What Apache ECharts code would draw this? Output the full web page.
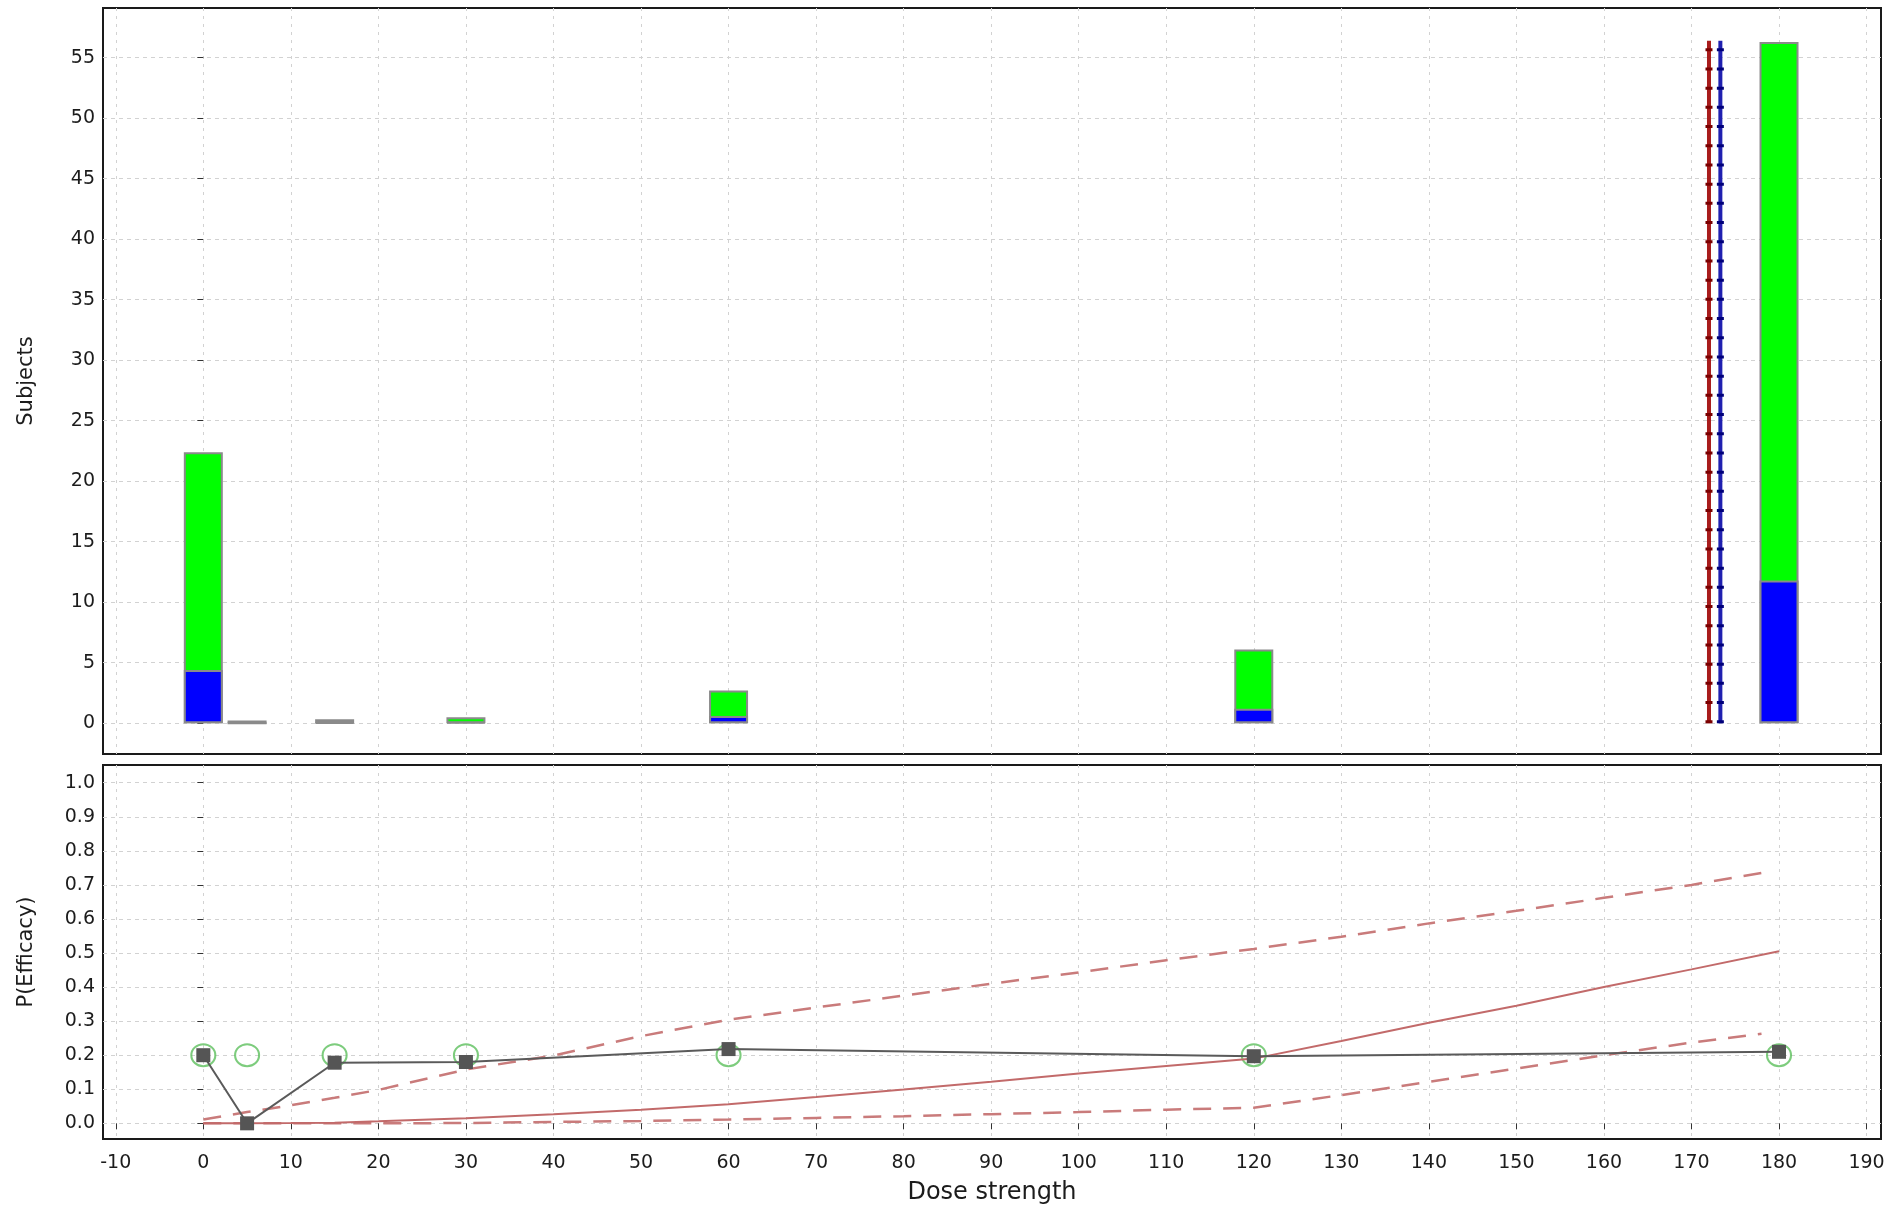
<!DOCTYPE html>
<html>
<head>
<meta charset="utf-8">
<script src="https://cdn.jsdelivr.net/npm/echarts@6/dist/echarts.min.js"></script>
<style>
  html, body { margin: 0; padding: 0; background: #ffffff; }
  #chart { width: 1889px; height: 1207px; }
</style>
</head>
<body>
<div id="chart"></div>
<script>
// Dose levels tested
const doses = [0, 5, 15, 30, 60, 120, 180];
// Subjects per dose, split into responders (blue) and non-responders (green)
const responders = [4.4, 0, 0.06, 0.09, 0.6, 1.2, 11.8];
const nonResponders = [18.0, 0.22, 0.28, 0.41, 2.1, 4.9, 44.5];
// Observed response rate per dose
const observedRate = [0.2, 0.0, 0.178, 0.18, 0.218, 0.197, 0.21];
// Prior guess of the response rate per dose
const priorRate = [0.2, 0.2, 0.2, 0.2, 0.2, 0.2, 0.2];

// Fitted dose-response curve
const fitDoses = [0, 5, 10, 15, 20, 30, 40, 50, 60, 70, 80, 90, 100, 110, 120, 130, 140, 150, 160, 170, 180];
const fitMean = [0.0, 0.0005, 0.001, 0.002, 0.006, 0.015, 0.027, 0.04, 0.056, 0.077, 0.099, 0.122, 0.146, 0.168, 0.19, 0.242, 0.295, 0.345, 0.4, 0.452, 0.505];
// Credible interval around the fit
const boundDoses = [0, 5, 10, 15, 20, 30, 40, 50, 60, 70, 80, 90, 100, 110, 120, 130, 140, 150, 160, 170, 178];
const upperBound = [0.011, 0.033, 0.053, 0.075, 0.098, 0.158, 0.199, 0.256, 0.304, 0.34, 0.375, 0.41, 0.443, 0.479, 0.512, 0.548, 0.587, 0.624, 0.662, 0.7, 0.735];
const lowerBound = [0.0, 0.0, 0.0, 0.0, 0.0, 0.001, 0.004, 0.007, 0.011, 0.016, 0.021, 0.027, 0.033, 0.04, 0.046, 0.083, 0.122, 0.161, 0.2, 0.237, 0.263];

// Recommended doses shown as vertical markers
const targetDoseA = 172.0;
const targetDoseB = 173.3;
const targetMarkerTop = 56.4;

// Tick values
const doseTicks = [-10, 0, 10, 20, 30, 40, 50, 60, 70, 80, 90, 100, 110, 120, 130, 140, 150, 160, 170, 180, 190];
const subjectTicks = [0, 5, 10, 15, 20, 25, 30, 35, 40, 45, 50, 55];
const efficacyTicks = [0, 0.1, 0.2, 0.3, 0.4, 0.5, 0.6, 0.7, 0.8, 0.9, 1.0];

const FONT = 'DejaVu Sans';
const TEXT = '#1c1c1c';
const pairs = (xs, ys) => xs.map((x, i) => [x, ys[i]]);
// Total subjects per dose: the green bar spans the whole count, the blue one is drawn over its lower part
const totals = doses.map((_, i) => responders[i] + nonResponders[i]);

const hGrid = { show: true, lineStyle: { color: '#d2d2d2', width: 1, type: [4, 4] } };
const vGrid = { show: true, lineStyle: { color: '#d2d2d2', width: 1, type: [3, 5] } };

const doseRange = { min: -11.46, max: 191.65 };

const chart = echarts.init(document.getElementById('chart'), null, { renderer: 'canvas' });

chart.setOption({
  animation: false,
  backgroundColor: '#ffffff',
  grid: [
    { left: 103, right: 8, top: 8, bottom: 453, show: true, borderColor: '#1a1a1a', borderWidth: 2, backgroundColor: 'transparent' },
    { left: 103, right: 8, top: 765, bottom: 68, show: true, borderColor: '#1a1a1a', borderWidth: 2, backgroundColor: 'transparent' }
  ],
  xAxis: [
    {
      type: 'value', gridIndex: 0, min: doseRange.min, max: doseRange.max,
      axisLine: { show: false },
      axisTick: { show: false, customValues: doseTicks },
      axisLabel: { show: false, customValues: doseTicks },
      splitLine: vGrid
    },
    {
      type: 'value', gridIndex: 1, min: doseRange.min, max: doseRange.max,
      name: 'Dose strength', nameLocation: 'middle', nameGap: 42,
      nameTextStyle: { fontFamily: FONT, fontSize: 24, color: TEXT },
      axisLine: { show: false },
      axisTick: { show: true, length: 6, customValues: doseTicks, lineStyle: { color: '#333', width: 1 } },
      axisLabel: { customValues: doseTicks, margin: 15, fontFamily: FONT, fontSize: 19, color: TEXT,
                   formatter: v => String(Math.round(v)) },
      splitLine: vGrid
    }
  ],
  yAxis: [
    {
      type: 'value', gridIndex: 0, min: -2.54, max: 59.1,
      name: 'Subjects', nameLocation: 'middle', nameGap: 66,
      nameTextStyle: { fontFamily: FONT, fontSize: 21, color: TEXT },
      axisLine: { show: false },
      axisTick: { show: true, length: 6, customValues: subjectTicks, lineStyle: { color: '#333', width: 1 } },
      axisLabel: { customValues: subjectTicks, margin: 8, fontFamily: FONT, fontSize: 19, color: TEXT,
                   formatter: v => String(Math.round(v)) },
      splitLine: hGrid
    },
    {
      type: 'value', gridIndex: 1, min: -0.046, max: 1.052,
      name: 'P(Efficacy)', nameLocation: 'middle', nameGap: 66,
      nameTextStyle: { fontFamily: FONT, fontSize: 21, color: TEXT },
      axisLine: { show: false },
      axisTick: { show: true, length: 6, customValues: efficacyTicks, lineStyle: { color: '#333', width: 1 } },
      axisLabel: { customValues: efficacyTicks, margin: 8, fontFamily: FONT, fontSize: 19, color: TEXT,
                   formatter: v => v.toFixed(1) },
      splitLine: hGrid
    }
  ],
  series: [
    // Subjects per dose: total (green) with responders (blue) overlaid from the baseline
    {
      type: 'bar', name: 'All subjects', xAxisIndex: 0, yAxisIndex: 0,
      barWidth: 39, barGap: '-100%', data: pairs(doses, totals),
      itemStyle: { color: '#00ff00', borderColor: '#8a8a8a', borderWidth: 2 }
    },
    {
      type: 'bar', name: 'Responders', xAxisIndex: 0, yAxisIndex: 0,
      barWidth: 39, barGap: '-100%', data: pairs(doses, responders),
      itemStyle: { color: '#0000ff', borderColor: '#8a8a8a', borderWidth: 2 }
    },
    // Recommended dose markers
    {
      type: 'line', xAxisIndex: 0, yAxisIndex: 0, symbol: 'none', silent: true,
      data: [[targetDoseA, 0], [targetDoseA, targetMarkerTop]],
      lineStyle: { color: '#a81c1c', width: 4 }
    },
    {
      type: 'line', xAxisIndex: 0, yAxisIndex: 0, symbol: 'none', silent: true,
      data: [[targetDoseA, 0], [targetDoseA, targetMarkerTop]],
      lineStyle: { color: '#7a0000', width: 7, type: [3, 16.2], cap: 'butt' }
    },
    {
      type: 'line', xAxisIndex: 0, yAxisIndex: 0, symbol: 'none', silent: true,
      data: [[targetDoseB, 0], [targetDoseB, targetMarkerTop]],
      lineStyle: { color: '#2020b0', width: 4 }
    },
    {
      type: 'line', xAxisIndex: 0, yAxisIndex: 0, symbol: 'none', silent: true,
      data: [[targetDoseB, 0], [targetDoseB, targetMarkerTop]],
      lineStyle: { color: '#00007a', width: 7, type: [3, 16.2], cap: 'butt' }
    },
    // Prior response rate
    {
      type: 'scatter', xAxisIndex: 1, yAxisIndex: 1, symbol: 'circle', symbolSize: [24, 22],
      data: pairs(doses, priorRate),
      itemStyle: { color: 'rgba(0,0,0,0)', borderColor: '#5cbf5c', borderWidth: 2 }
    },
    // Fitted curve and interval
    {
      type: 'line', xAxisIndex: 1, yAxisIndex: 1, symbol: 'none',
      data: pairs(boundDoses, upperBound),
      lineStyle: { color: '#c97b7b', width: 2.5, type: [18, 12] }
    },
    {
      type: 'line', xAxisIndex: 1, yAxisIndex: 1, symbol: 'none',
      data: pairs(boundDoses, lowerBound),
      lineStyle: { color: '#c97b7b', width: 2.5, type: [18, 12] }
    },
    {
      type: 'line', xAxisIndex: 1, yAxisIndex: 1, symbol: 'none',
      data: pairs(fitDoses, fitMean),
      lineStyle: { color: '#c26a6a', width: 2 }
    },
    // Observed response rate
    {
      type: 'line', xAxisIndex: 1, yAxisIndex: 1, symbol: 'rect', symbolSize: 14,
      data: pairs(doses, observedRate),
      lineStyle: { color: '#5a5a5a', width: 2 },
      itemStyle: { color: '#555555' }
    }
  ]
});
</script>
</body>
</html>
